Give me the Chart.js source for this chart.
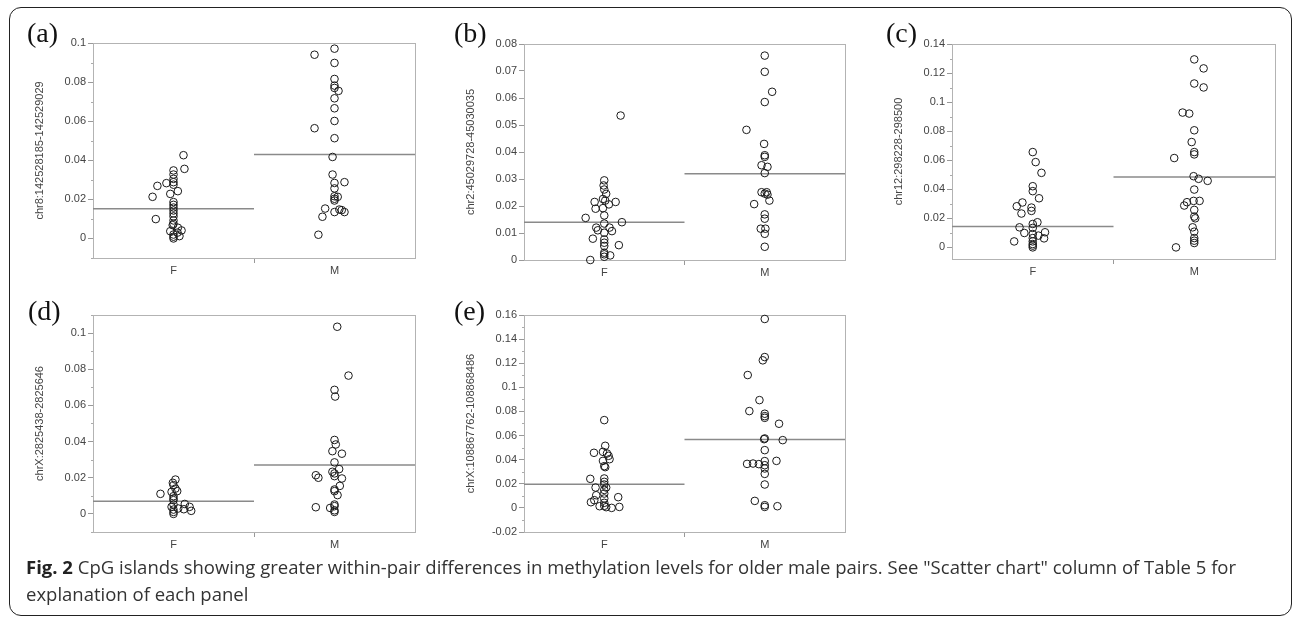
<!DOCTYPE html>
<html lang="en">
<head>
  <meta charset="UTF-8" />
  <title>Fig. 2 - CpG islands, within-pair differences</title>
  <script src="https://cdn.jsdelivr.net/npm/chart.js"></script>
  <style>
    body { margin: 0; background: #fff; width: 1295px; height: 618px; position: relative; overflow: hidden; font-family: "Open Sans", sans-serif; }
    .frame { position: absolute; left: 9px; top: 7px; width: 1283px; height: 609px; box-sizing: border-box; border: 1.5px solid #222; border-radius: 12px; }
    .panel { position: absolute; }
    .letter { position: absolute; font-family: "Liberation Serif", serif; font-size: 28px; line-height: 1; color: #111; }
    .caption { position: absolute; left: 26px; top: 553px; width: 1250px; font-size: 18.5px; line-height: 27px; color: #333; }
    .caption b { color: #222; }
  </style>
</head>
<body>
  <div class="frame"></div>
  <div id="panels"></div>
  <div class="caption"><b>Fig. 2</b> CpG islands showing greater within-pair differences in methylation levels for older male pairs. See "Scatter chart" column of Table 5 for explanation of each panel</div>

  <script>
    // categories / labels
    const categories = ['F', 'M'];
    const panelLetters = ['(a)', '(b)', '(c)', '(d)', '(e)'];
    const yTitles = [
      'chr8:142528185-142529029',
      'chr2:45029728-45030035',
      'chr12:298228-298500',
      'chrX:2825438-2825646',
      'chrX:108867762-108868486'
    ];

    // y axis ranges and tick steps
    const yMins = [-0.01, 0, -0.008, -0.01, -0.02];
    const yMaxs = [0.1, 0.08, 0.14, 0.11, 0.16];
    const labelSteps = [0.02, 0.01, 0.02, 0.02, 0.02];
    const minorSteps = [0.01, 0.01, 0.01, 0.01, 0.01];

    // group means (horizontal lines)
    const femaleMeans = [0.0152, 0.0140, 0.0143, 0.0070, 0.0197];
    const maleMeans = [0.0429, 0.0319, 0.0484, 0.0270, 0.0568];

    // (a) chr8
    const aFemale = [0.0426, 0.0356, 0.0348, 0.0327, 0.0305, 0.0288, 0.0275, 0.0283, 0.0269, 0.0242, 0.0228, 0.0213, 0.0186, 0.0172, 0.0158, 0.0143, 0.0128, 0.0113, 0.0099, 0.0092, 0.0075, 0.0068, 0.0055, 0.0041, 0.0037, 0.0030, 0.0012, 0.0009, 0.0, 0.0020];
    const aFemaleJit = [0.062, 0.068, 0, 0, 0, 0, 0, -0.044, -0.10, 0.027, -0.02, -0.13, 0, 0, 0, 0, 0, 0, -0.11, 0, 0, -0.005, 0.027, 0.05, -0.02, 0.025, 0.037, 0, 0, 0];
    const aMale = [0.0971, 0.0940, 0.0898, 0.0816, 0.0782, 0.0770, 0.0755, 0.0717, 0.0666, 0.0601, 0.0564, 0.0513, 0.0417, 0.0327, 0.0284, 0.0288, 0.0256, 0.0216, 0.0213, 0.0203, 0.0194, 0.0153, 0.0148, 0.0145, 0.0135, 0.0135, 0.0111, 0.0019];
    const aMaleJit = [0, -0.124, 0, 0, 0, 0, 0.025, 0, 0, 0, -0.124, 0, -0.012, -0.012, 0, 0.062, 0, 0, 0.02, 0, 0, -0.058, 0.03, 0.045, 0.062, 0, -0.075, -0.1];

    // (b) chr2
    const bFemale = [0.0535, 0.0295, 0.0276, 0.0261, 0.0245, 0.0226, 0.0220, 0.0215, 0.0206, 0.0215, 0.0190, 0.0192, 0.0165, 0.0156, 0.0140, 0.0135, 0.0120, 0.0120, 0.0110, 0.0107, 0.0101, 0.0079, 0.0076, 0.0064, 0.0052, 0.0055, 0.0027, 0.0021, 0.0017, 0.0, 0.0012];
    const bFemaleJit = [0.102, 0, -0.004, 0, 0.012, -0.008, 0.006, 0.071, 0.029, -0.06, -0.054, -0.008, 0, -0.116, 0.11, 0, -0.05, 0.033, -0.04, 0.048, 0, -0.071, 0, 0, 0, 0.091, 0, 0, 0.037, -0.087, 0];
    const bMale = [0.0757, 0.0697, 0.0623, 0.0585, 0.0482, 0.0430, 0.0388, 0.0382, 0.0351, 0.0345, 0.0322, 0.0251, 0.0246, 0.0251, 0.0242, 0.0220, 0.0207, 0.0169, 0.0153, 0.0116, 0.0116, 0.0097, 0.0049];
    const bMaleJit = [0, 0, 0.046, 0, -0.114, -0.004, 0, 0, -0.02, 0.017, 0, -0.02, 0, 0.012, 0.017, 0.029, -0.066, 0, 0, -0.025, 0.004, 0, 0];

    // (c) chr12
    const cFemale = [0.0656, 0.0587, 0.0513, 0.0421, 0.0387, 0.0338, 0.0309, 0.0283, 0.0274, 0.0251, 0.0233, 0.0173, 0.0161, 0.0138, 0.0134, 0.0099, 0.0104, 0.0092, 0.0081, 0.0062, 0.0041, 0.0064, 0.0041, 0.0023, 0.0012, 0.0];
    const cFemaleJit = [0, 0.018, 0.054, 0, 0, 0.039, -0.064, -0.099, -0.008, -0.008, -0.070, 0.029, 0, -0.082, 0, -0.052, 0.076, 0, 0.035, 0.070, -0.115, 0, 0, 0, 0, 0];
    const cMale = [0.1294, 0.1232, 0.1128, 0.1101, 0.0928, 0.0921, 0.0806, 0.0725, 0.0656, 0.0640, 0.0615, 0.0490, 0.0472, 0.0458, 0.0398, 0.0320, 0.0320, 0.0311, 0.0288, 0.0258, 0.0212, 0.0200, 0.0138, 0.0108, 0.0064, 0.0046, 0.0030, 0.0];
    const cMaleJit = [0, 0.058, 0, 0.058, -0.072, -0.031, 0, -0.016, 0, 0, -0.124, -0.004, 0.027, 0.083, 0, 0.033, -0.004, -0.045, -0.062, 0, 0, 0.006, -0.01, 0, 0, 0, 0, -0.113];

    // (d) chrX:2825438
    const dFemale = [0.0190, 0.0172, 0.0159, 0.0140, 0.0126, 0.0122, 0.0111, 0.0098, 0.0085, 0.0076, 0.0055, 0.0052, 0.0039, 0.0039, 0.0030, 0.0026, 0.0024, 0.0017, 0.0011, 0.0];
    const dFemaleJit = [0.012, -0.004, 0, 0.012, 0.023, -0.012, -0.081, 0, 0, 0, 0.070, 0, 0.100, -0.012, 0.029, 0.064, 0, 0.110, 0, 0];
    const dMale = [0.1035, 0.0765, 0.0686, 0.0649, 0.0409, 0.0384, 0.0347, 0.0333, 0.0285, 0.0248, 0.0233, 0.0224, 0.0209, 0.0214, 0.0200, 0.0196, 0.0155, 0.0135, 0.0126, 0.0104, 0.0037, 0.0052, 0.0043, 0.0033, 0.0020, 0.0011];
    const dMaleJit = [0.017, 0.087, 0, 0.004, 0, 0.008, -0.013, 0.046, 0, 0.029, -0.013, 0, 0, -0.116, -0.1, 0.046, 0.033, 0, 0, 0.019, -0.116, 0, 0, -0.027, 0, 0];

    // (e) chrX:108867762
    const eFemale = [0.0728, 0.0515, 0.0457, 0.0465, 0.0451, 0.0432, 0.0404, 0.0390, 0.0346, 0.0338, 0.0241, 0.0244, 0.0216, 0.0194, 0.0169, 0.0169, 0.0149, 0.0105, 0.0119, 0.0064, 0.0078, 0.0089, 0.0047, 0.0042, 0.0014, 0.0006, 0.0, 0.0008, 0.0017];
    const eFemaleJit = [0, 0.006, -0.064, -0.008, 0.017, 0.027, 0.033, -0.008, 0, 0.006, -0.087, 0, 0, 0, 0.012, -0.054, 0, -0.05, 0, -0.062, 0, 0.087, -0.083, 0, -0.029, 0.012, 0.046, 0.094, 0];
    const eMale = [0.1567, 0.1251, 0.1224, 0.1102, 0.0894, 0.0803, 0.0781, 0.0761, 0.0747, 0.0698, 0.0576, 0.0570, 0.0562, 0.0479, 0.0390, 0.0388, 0.0365, 0.0368, 0.0363, 0.0354, 0.0327, 0.0282, 0.0194, 0.0058, 0.0022, 0.0008, 0.0014];
    const eMaleJit = [0, 0, -0.012, -0.106, -0.033, -0.096, 0, 0, 0, 0.089, 0, -0.004, 0.112, 0, 0.073, 0, -0.11, -0.073, -0.037, 0, 0, 0, 0, -0.062, 0, 0, 0.079];

    const femaleValues = [aFemale, bFemale, cFemale, dFemale, eFemale];
    const femaleJitter = [aFemaleJit, bFemaleJit, cFemaleJit, dFemaleJit, eFemaleJit];
    const maleValues = [aMale, bMale, cMale, dMale, eMale];
    const maleJitter = [aMaleJit, bMaleJit, cMaleJit, dMaleJit, eMaleJit];

    // layout: plot area [left, top, right, bottom] and letter position per panel
    const plotBoxes = [[93, 43, 415, 258], [524, 44, 845, 260], [952, 44, 1275, 259], [93, 315, 415, 532], [524, 315, 845, 532]];
    const letterPos = [[27, 19], [454, 19], [886, 19], [28, 297], [454, 297]];
    const AXIS_W = 62, AXIS_H = 24, PAD_T = 10, PAD_R = 6;

    Chart.defaults.font.family = '"Liberation Sans", Arial, sans-serif';
    Chart.defaults.font.size = 11;
    Chart.defaults.color = '#444';

    const isMultiple = (v, step) => Math.abs(v / step - Math.round(v / step)) < 1e-6;
    const fmt = v => String(Math.round(v * 100) / 100);

    const framePlugin = {
      id: 'frame',
      beforeDatasetsDraw(chart) {
        const { ctx, chartArea: a } = chart;
        const y = chart.scales.y;
        const step = chart.options.scales.y.labelStep;
        ctx.save();
        ctx.strokeStyle = '#b3b3b3';
        ctx.lineWidth = 1;
        ctx.strokeRect(Math.round(a.left) + 0.5, Math.round(a.top) + 0.5, Math.round(a.width), Math.round(a.height));
        // short minor ticks
        ctx.strokeStyle = '#aaa';
        y.ticks.forEach(t => {
          if (isMultiple(t.value, step)) return;
          const py = Math.round(y.getPixelForValue(t.value)) + 0.5;
          ctx.beginPath();
          ctx.moveTo(a.left - 2, py);
          ctx.lineTo(a.left, py);
          ctx.stroke();
        });
        ctx.restore();
      }
    };

    function makePanel(i) {
      const [L, T, R, B] = plotBoxes[i];
      const wrap = document.createElement('div');
      wrap.className = 'panel';
      wrap.style.left = (L - AXIS_W) + 'px';
      wrap.style.top = (T - PAD_T) + 'px';
      wrap.style.width = (R - L + AXIS_W + PAD_R) + 'px';
      wrap.style.height = (B - T + PAD_T + AXIS_H) + 'px';
      const canvas = document.createElement('canvas');
      wrap.appendChild(canvas);
      document.getElementById('panels').appendChild(wrap);

      const letter = document.createElement('div');
      letter.className = 'letter';
      letter.textContent = panelLetters[i];
      letter.style.left = letterPos[i][0] + 'px';
      letter.style.top = letterPos[i][1] + 'px';
      document.body.appendChild(letter);

      const fPts = femaleValues[i].map((v, k) => ({ x: 0.5 + femaleJitter[i][k], y: v }));
      const mPts = maleValues[i].map((v, k) => ({ x: 1.5 + maleJitter[i][k], y: v }));
      const pointStyle = {
        pointRadius: 3.8,
        pointBorderWidth: 1,
        borderColor: '#1a1a1a',
        backgroundColor: 'rgba(0,0,0,0)',
        clip: false,
        order: 0
      };
      const meanStyle = { showLine: true, pointRadius: 0, borderColor: '#8a8a8a', borderWidth: 1.5, order: 1 };
      const labelStep = labelSteps[i], minorStep = minorSteps[i];

      new Chart(canvas, {
        type: 'scatter',
        data: {
          datasets: [
            { label: categories[0], data: fPts, ...pointStyle },
            { label: categories[1], data: mPts, ...pointStyle },
            { label: 'mean F', data: [{ x: 0, y: femaleMeans[i] }, { x: 1, y: femaleMeans[i] }], ...meanStyle },
            { label: 'mean M', data: [{ x: 1, y: maleMeans[i] }, { x: 2, y: maleMeans[i] }], ...meanStyle }
          ]
        },
        options: {
          responsive: true,
          maintainAspectRatio: false,
          animation: false,
          layout: { padding: { top: PAD_T, right: PAD_R, left: 0, bottom: 0 } },
          plugins: { legend: { display: false }, tooltip: { enabled: false } },
          scales: {
            x: {
              type: 'linear', min: 0, max: 2,
              afterBuildTicks: s => { s.ticks = [{ value: 0.5 }, { value: 1 }, { value: 1.5 }]; },
              afterFit: s => { s.height = AXIS_H; },
              ticks: {
                autoSkip: false, maxRotation: 0, padding: 1, color: '#444',
                callback: v => v === 0.5 ? categories[0] : (v === 1.5 ? categories[1] : '')
              },
              grid: {
                drawOnChartArea: false, tickLength: 5,
                tickColor: ctx => (ctx.tick && ctx.tick.value === 1) ? '#999' : 'rgba(0,0,0,0)'
              },
              border: { display: false }
            },
            y: {
              min: yMins[i], max: yMaxs[i],
              labelStep: labelStep,
              afterBuildTicks: s => { s.ticks = s.ticks.filter(t => isMultiple(t.value, minorStep)); },
              afterFit: s => { s.width = AXIS_W; },
              ticks: {
                stepSize: minorStep, includeBounds: false, autoSkip: false, padding: 2, color: '#444',
                callback: v => isMultiple(v, labelStep) ? fmt(v) : ''
              },
              grid: {
                drawOnChartArea: false, tickLength: 5,
                tickColor: ctx => (ctx.tick && isMultiple(ctx.tick.value, labelStep)) ? '#999' : 'rgba(0,0,0,0)'
              },
              border: { display: false },
              title: { display: true, text: yTitles[i], color: '#444', font: { size: 11 }, padding: { top: 2, bottom: 0 } }
            }
          }
        },
        plugins: [framePlugin]
      });
    }

    for (let i = 0; i < panelLetters.length; i++) makePanel(i);
  </script>
</body>
</html>
